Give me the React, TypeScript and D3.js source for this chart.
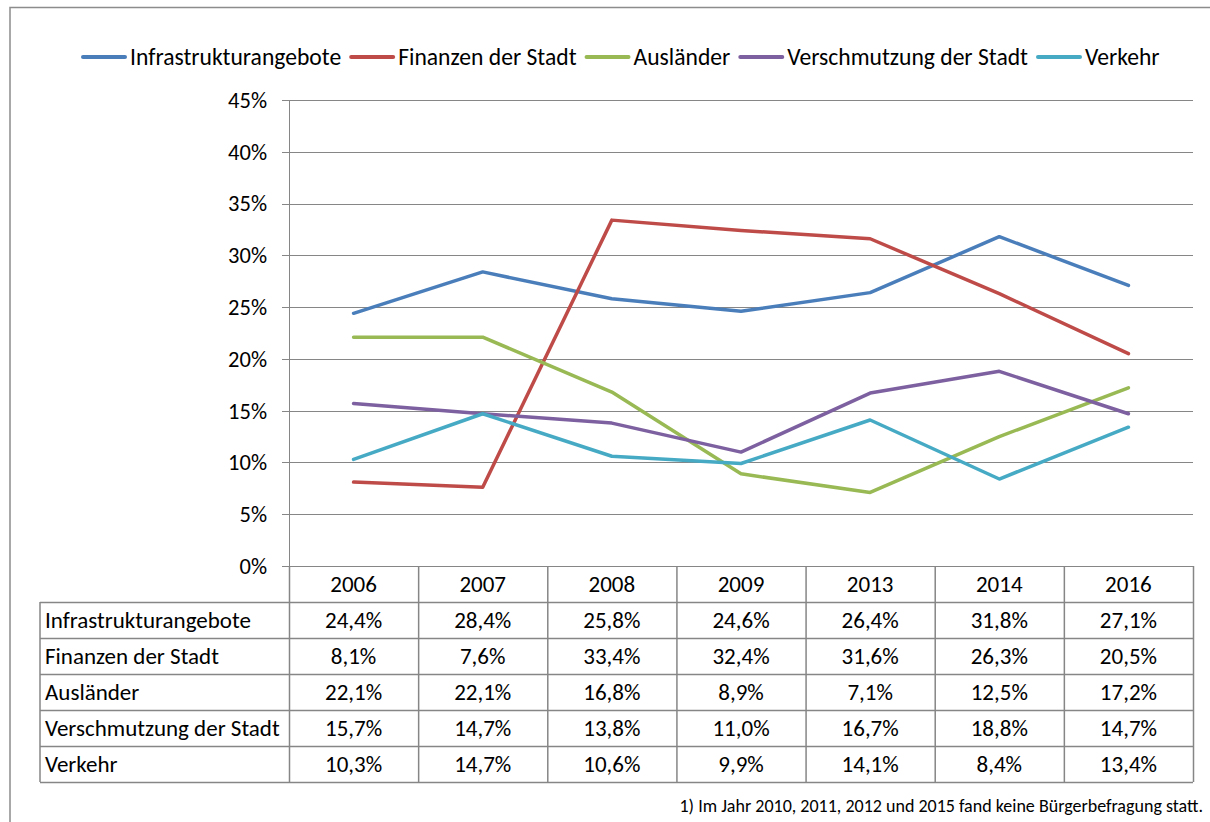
import { useEffect, useRef } from "react";
import * as d3 from "d3";

const years = ["2006", "2007", "2008", "2009", "2013", "2014", "2016"];
const infrastruktur = [24.4, 28.4, 25.8, 24.6, 26.4, 31.8, 27.1];
const finanzen = [8.1, 7.6, 33.4, 32.4, 31.6, 26.3, 20.5];
const auslaender = [22.1, 22.1, 16.8, 8.9, 7.1, 12.5, 17.2];
const verschmutzung = [15.7, 14.7, 13.8, 11.0, 16.7, 18.8, 14.7];
const verkehr = [10.3, 14.7, 10.6, 9.9, 14.1, 8.4, 13.4];
const yTicks = [0, 5, 10, 15, 20, 25, 30, 35, 40, 45];
const footnote = "1) Im Jahr 2010, 2011, 2012 und 2015 fand keine Bürgerbefragung statt.";

const series = [
  { name: "Infrastrukturangebote", values: infrastruktur, color: "#4a7ebb" },
  { name: "Finanzen der Stadt", values: finanzen, color: "#be4b48" },
  { name: "Ausländer", values: auslaender, color: "#98b954" },
  { name: "Verschmutzung der Stadt", values: verschmutzung, color: "#7d60a0" },
  { name: "Verkehr", values: verkehr, color: "#46aac5" },
];

const FONT = "Carlito, Calibri, Lato, sans-serif";
const FS = 23;

export default function App() {
  const ref = useRef<SVGSVGElement>(null);

  useEffect(() => {
    const svg = d3.select(ref.current);
    svg.selectAll("*").remove();

    const plot = { left: 289, right: 1193, top: 100, bottom: 566 };
    const rowH = 36;
    const tableLeft = 40;
    const grid = "#868686";

    const x = d3.scaleBand().domain(years).range([plot.left, plot.right]).padding(0);
    const y = d3.scaleLinear().domain([0, 45]).range([plot.bottom, plot.top]);

    // outer frame
    svg.append("path")
      .attr("d", `M10,830 V7.5 H1220`)
      .attr("fill", "none")
      .attr("stroke", "#8c8c8c")
      .attr("stroke-width", 1.5);

    // gridlines and y axis
    const gy = svg.append("g");
    gy.selectAll("line.grid").data(yTicks).enter().append("line")
      .attr("x1", plot.left - 7).attr("x2", plot.right)
      .attr("y1", d => Math.round(y(d)) + 0.5).attr("y2", d => Math.round(y(d)) + 0.5)
      .attr("stroke", grid).attr("stroke-width", 1);
    gy.selectAll("text").data(yTicks).enter().append("text")
      .attr("x", 267).attr("y", d => y(d)).attr("dy", "0.35em")
      .attr("text-anchor", "end")
      .attr("font-family", FONT).attr("font-size", 22.5).attr("fill", "#000")
      .text(d => `${d}%`);
    svg.append("line")
      .attr("x1", plot.left + 0.5).attr("x2", plot.left + 0.5)
      .attr("y1", plot.top).attr("y2", plot.bottom)
      .attr("stroke", grid);

    // table
    const tableBottom = plot.bottom + rowH * (series.length + 1);
    const t = svg.append("g");
    const hRows = d3.range(1, series.length + 2).map(i => plot.bottom + rowH * i);
    t.selectAll("line.h").data(hRows).enter().append("line")
      .attr("x1", tableLeft).attr("x2", plot.right)
      .attr("y1", d => d + 0.5).attr("y2", d => d + 0.5)
      .attr("stroke", grid).attr("stroke-width", 1.5);
    const vCols = years.map(yr => x(yr)!).concat([plot.right]);
    t.selectAll("line.v").data(vCols).enter().append("line")
      .attr("x1", d => d + 0.5).attr("x2", d => d + 0.5)
      .attr("y1", plot.bottom).attr("y2", tableBottom)
      .attr("stroke", grid).attr("stroke-width", 1.5);
    t.append("line")
      .attr("x1", tableLeft).attr("x2", tableLeft)
      .attr("y1", plot.bottom + rowH).attr("y2", tableBottom)
      .attr("stroke", grid).attr("stroke-width", 1.5);

    t.selectAll("text.year").data(years).enter().append("text")
      .attr("x", d => x(d)! + x.bandwidth() / 2)
      .attr("y", plot.bottom + rowH / 2).attr("dy", "0.35em")
      .attr("text-anchor", "middle")
      .attr("font-family", FONT).attr("font-size", FS)
      .text(d => d);

    series.forEach((s, i) => {
      const rowY = plot.bottom + rowH * (i + 1) + rowH / 2;
      t.append("text")
        .attr("x", tableLeft + 5).attr("y", rowY).attr("dy", "0.35em")
        .attr("font-family", FONT).attr("font-size", FS)
        .text(s.name);
      t.selectAll(`text.v${i}`).data(s.values).enter().append("text")
        .attr("x", (_, j) => x(years[j])! + x.bandwidth() / 2)
        .attr("y", rowY).attr("dy", "0.35em")
        .attr("text-anchor", "middle")
        .attr("font-family", FONT).attr("font-size", FS)
        .text(v => v.toFixed(1).replace(".", ",") + "%");
    });

    // lines
    const line = d3.line<number>()
      .x((_, j) => x(years[j])! + x.bandwidth() / 2)
      .y(v => y(v));
    series.forEach(s => {
      svg.append("path")
        .datum(s.values)
        .attr("d", line)
        .attr("fill", "none")
        .attr("stroke", s.color)
        .attr("stroke-width", 3.5)
        .attr("stroke-linejoin", "round")
        .attr("stroke-linecap", "round");
    });

    // legend
    const lg = svg.append("g");
    let lx = 83;
    series.forEach(s => {
      lg.append("line")
        .attr("x1", lx).attr("x2", lx + 42)
        .attr("y1", 57).attr("y2", 57)
        .attr("stroke", s.color).attr("stroke-width", 4).attr("stroke-linecap", "round");
      const txt = lg.append("text")
        .attr("x", lx + 47).attr("y", 57).attr("dy", "0.35em")
        .attr("font-family", FONT).attr("font-size", 23.6)
        .text(s.name);
      const w = (txt.node() as SVGTextElement).getComputedTextLength();
      lx = lx + 47 + w + 10;
    });

    svg.append("text")
      .attr("x", 1203).attr("y", 806).attr("dy", "0.35em")
      .attr("text-anchor", "end")
      .attr("font-family", FONT).attr("font-size", 18)
      .text(footnote);
  }, []);

  return (
    <svg
      ref={ref}
      width={1210}
      height={822}
      style={{ position: "absolute", left: 0, top: 0, background: "#fff" }}
    />
  );
}
